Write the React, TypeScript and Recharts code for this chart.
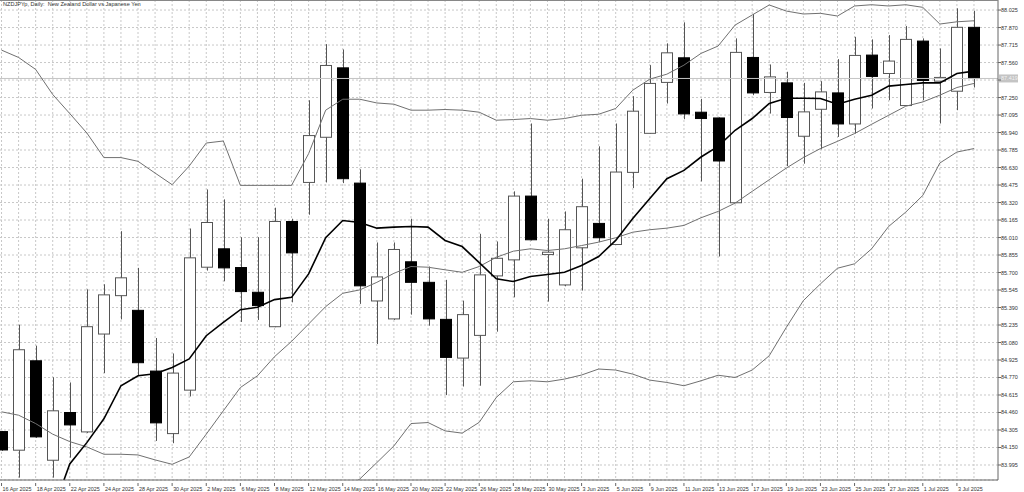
import { ComposedChart, Bar, Line, XAxis, YAxis, CartesianGrid, ReferenceLine } from 'recharts';

const dates = [
  '16 Apr 2025', '17 Apr 2025', '18 Apr 2025', '21 Apr 2025', '22 Apr 2025', '23 Apr 2025', '24 Apr 2025', '25 Apr 2025',
  '28 Apr 2025', '29 Apr 2025', '30 Apr 2025', '1 May 2025', '2 May 2025', '5 May 2025', '6 May 2025', '7 May 2025',
  '8 May 2025', '9 May 2025', '12 May 2025', '13 May 2025', '14 May 2025', '15 May 2025', '16 May 2025', '19 May 2025',
  '20 May 2025', '21 May 2025', '22 May 2025', '23 May 2025', '26 May 2025', '27 May 2025', '28 May 2025', '29 May 2025',
  '30 May 2025', '2 Jun 2025', '3 Jun 2025', '4 Jun 2025', '5 Jun 2025', '6 Jun 2025', '9 Jun 2025', '10 Jun 2025',
  '11 Jun 2025', '12 Jun 2025', '13 Jun 2025', '16 Jun 2025', '17 Jun 2025', '18 Jun 2025', '19 Jun 2025', '20 Jun 2025',
  '23 Jun 2025', '24 Jun 2025', '25 Jun 2025', '26 Jun 2025', '27 Jun 2025', '30 Jun 2025', '1 Jul 2025', '2 Jul 2025',
  '3 Jul 2025', '4 Jul 2025',
];

const opens = [
  84.291, 84.126, 84.918, 84.037, 84.46, 84.288, 85.155, 85.495, 85.365, 84.827, 84.273, 84.658, 85.747, 85.91, 85.744,
  85.525, 85.22, 86.152, 86.498, 86.898, 87.513, 86.492, 85.448, 85.289, 85.795, 85.613, 85.285, 84.942, 85.143, 85.67,
  85.812, 86.377, 85.859, 85.59, 85.919, 86.135, 85.948, 86.587, 86.933, 87.384, 87.602, 87.12, 87.069, 86.318, 87.605,
  87.295, 87.38, 86.907, 87.146, 87.291, 87.016, 87.626, 87.463, 87.179, 87.75, 87.395, 87.306, 87.872,
];
const highs = [
  84.297, 85.238, 85.052, 84.772, 84.726, 85.551, 85.596, 86.066, 85.741, 85.12, 84.983, 86.09, 86.436, 86.348, 86.013,
  86.013, 86.274, 86.176, 87.226, 87.723, 87.676, 86.614, 85.966, 85.966, 86.176, 85.753, 85.635, 85.451, 86.043, 85.975,
  86.419, 87.02, 86.176, 86.241, 86.531, 86.818, 87.02, 87.262, 87.537, 87.73, 87.916, 87.238, 87.075, 87.774, 87.99,
  87.543, 87.478, 87.38, 87.395, 87.59, 87.788, 87.765, 87.803, 87.883, 87.774, 87.685, 88.04, 88.019,
];
const lows = [
  84.12, 83.883, 84.235, 83.883, 84.06, 84.279, 84.809, 85.285, 84.785, 84.208, 84.188, 84.602, 85.717, 85.622, 85.262,
  85.28, 85.215, 85.436, 86.212, 86.498, 86.492, 85.422, 85.067, 85.28, 85.327, 85.229, 84.614, 84.69, 84.697, 85.176,
  85.48, 85.984, 85.442, 85.578, 85.54, 85.969, 85.945, 86.448, 86.93, 87.197, 87.058, 86.507, 85.842, 86.315, 87.271,
  87.108, 86.643, 86.664, 86.791, 86.901, 86.931, 87.153, 87.226, 87.176, 87.226, 87.02, 87.138, 87.339,
];
const closes = [
  84.128, 85.016, 84.244, 84.475, 84.35, 85.22, 85.502, 85.653, 84.901, 84.368, 84.809, 85.83, 86.143, 85.741, 85.531,
  85.407, 86.152, 85.874, 86.913, 87.534, 86.531, 85.582, 85.661, 85.904, 85.613, 85.289, 84.948, 85.327, 85.679, 85.826,
  86.377, 85.99, 85.88, 86.079, 86.283, 86.008, 86.59, 87.129, 87.375, 87.646, 87.105, 87.064, 86.688, 87.65, 87.291,
  87.433, 87.073, 87.123, 87.3, 87.016, 87.623, 87.437, 87.573, 87.765, 87.401, 87.428, 87.872, 87.419,
];

// moving average (thick black line)
const maLine = [
  null, null, null, 83.587, 84.004, 84.193, 84.404, 84.697, 84.785, 84.803, 84.859, 84.934, 85.14, 85.258, 85.371,
  85.392, 85.46, 85.48, 85.688, 86.008, 86.161, 86.143, 86.093, 86.102, 86.108, 86.102, 85.984, 85.93, 85.788, 85.644,
  85.62, 85.664, 85.682, 85.702, 85.762, 85.842, 85.984, 86.179, 86.356, 86.531, 86.605, 86.723, 86.818, 86.96, 87.064,
  87.197, 87.244, 87.244, 87.241, 87.191, 87.235, 87.271, 87.351, 87.366, 87.38, 87.38, 87.463, 87.484,
];

// bollinger bands
const bbUpper = [
  87.67, 87.605, 87.499, 87.277, 87.108, 86.936, 86.718, 86.718, 86.685, 86.581, 86.478, 86.643, 86.847, 86.865, 86.472,
  86.472, 86.472, 86.472, 86.753, 87.138, 87.235, 87.235, 87.202, 87.191, 87.138, 87.138, 87.144, 87.138, 87.12, 87.049,
  87.055, 87.064, 87.049, 87.064, 87.093, 87.102, 87.153, 87.315, 87.413, 87.457, 87.537, 87.641, 87.706, 87.892, 87.981,
  88.07, 88.016, 87.99, 87.996, 87.972, 88.061, 88.072, 88.061, 88.072, 88.049, 87.901, 87.921, 87.93,
];
const bbMiddle = [
  84.466, 84.436, 84.362, 84.268, 84.202, 84.155, 84.09, 84.09, 84.084, 84.04, 84.001, 84.066, 84.268, 84.475, 84.681,
  84.785, 84.954, 85.09, 85.244, 85.398, 85.516, 85.546, 85.613, 85.693, 85.753, 85.747, 85.724, 85.702, 85.753, 85.835,
  85.889, 85.91, 85.895, 85.91, 85.939, 85.969, 86.008, 86.057, 86.079, 86.093, 86.117, 86.185, 86.241, 86.315, 86.419,
  86.522, 86.625, 86.718, 86.798, 86.862, 86.931, 87.013, 87.093, 87.173, 87.211, 87.271, 87.339, 87.375,
];
const bbLower = [
  null, null, null, null, null, null, null, null, null, null, null, null, null, null, null,
  null, null, null, 83.738, 83.658, 83.764, 83.871, 84.016, 84.164, 84.362, 84.371, 84.297, 84.277, 84.373, 84.593,
  84.732, 84.741, 84.732, 84.756, 84.792, 84.845, 84.836, 84.8, 84.747, 84.726, 84.697, 84.741, 84.79, 84.77, 84.836,
  84.963, 85.214, 85.451, 85.599, 85.738, 85.777, 85.91, 86.108, 86.235, 86.383, 86.67, 86.767, 86.798,
];

const priceTicks = [
  83.995, 84.15, 84.305, 84.46, 84.615, 84.77, 84.925, 85.08, 85.235, 85.39, 85.545, 85.7, 85.855, 86.01,
  86.165, 86.32, 86.475, 86.63, 86.785, 86.94, 87.095, 87.25, 87.405, 87.56, 87.715, 87.87, 88.025,
];
const lastPrice = 87.419;
const title = 'NZDJPYp, Daily:  New Zealand Dollar vs Japanese Yen';

const data = dates.map((d, i) => ({
  date: d,
  range: [lows[i], highs[i]],
  open: opens[i],
  high: highs[i],
  low: lows[i],
  close: closes[i],
  ma: maLine[i],
  upper: bbUpper[i],
  middle: bbMiddle[i],
  lower: bbLower[i],
}));

const FONT = '"Liberation Sans", Arial, sans-serif';
const GRID = '#c8c8c8';

// vertical grid at the centre of each bar, taken from the x axis scale
const gridX = (args: any) => {
  try {
    const s = args && args.xAxis && args.xAxis.scale;
    if (!s) return [];
    const bw = typeof s.bandwidth === 'function' ? s.bandwidth() : 0;
    if (typeof s.map === 'function') {
      return dates.map((d) => {
        const start = s.map(d);
        const mid = s.map(d, { position: 'middle' });
        return mid !== start ? mid : start + bw / 2;
      });
    }
    if (typeof s === 'function') return dates.map((d) => s(d) + bw / 2);
  } catch (e) {
    return [];
  }
  return [];
};

const Candle = (props: any) => {
  const { x, y, width, height, payload } = props;
  const { open, close, high, low } = payload;
  const span = high - low;
  const k = span > 0 ? height / span : 0;
  const yOf = (v: number) => y + (high - v) * k;
  const cx = Math.round(x + width / 2) + 0.5;
  const top = yOf(Math.max(open, close));
  const bottom = yOf(Math.min(open, close));
  const up = close >= open;
  return (
    <g>
      <line x1={cx} x2={cx} y1={y} y2={y + height} stroke="#555" strokeWidth={1} />
      <rect
        x={Math.round(x) + 0.5}
        y={top}
        width={width - 1}
        height={Math.max(bottom - top, 1)}
        fill={up ? '#fff' : '#000'}
        stroke={up ? '#555' : '#000'}
        strokeWidth={1}
      />
    </g>
  );
};

const DateTick = (props: any) => {
  const { x, y, index, payload } = props;
  if (index % 2 !== 0) return <g />;
  return (
    <g>
      <line x1={x} x2={x} y1={y - 2} y2={y + 1} stroke="#666" />
      <text x={x + 1} y={y + 6} fontSize={5.4} fontFamily={FONT} fill="#333" textAnchor="start">
        {payload.value}
      </text>
    </g>
  );
};

const PriceTick = (props: any) => {
  const { x, y, payload } = props;
  if (Math.abs(payload.value - lastPrice) < 0.05) return <g />;
  return (
    <text x={x} y={y + 2} fontSize={5.5} fontFamily={FONT} fill="#333" textAnchor="start">
      {payload.value.toFixed(3)}
    </text>
  );
};

const PriceTag = (props: any) => {
  const { viewBox } = props;
  const x = viewBox.x + viewBox.width + 1;
  const y = viewBox.y;
  return (
    <g>
      <rect x={x} y={y - 4} width={19} height={8} fill="#c4c4c4" />
      <text x={x + 2} y={y + 2} fontSize={5.5} fontFamily={FONT} fill="#f2f2f2">
        {lastPrice.toFixed(3)}
      </text>
    </g>
  );
};

export default function App() {
  return (
    <div style={{ position: 'absolute', left: 0, top: 0, width: 1024, height: 492, background: '#fff' }}>
      <ComposedChart width={1024} height={492} data={data} margin={{ top: 0, right: 0, bottom: 0, left: 0 }}>
        <CartesianGrid stroke={GRID} strokeDasharray="2 2" verticalCoordinatesGenerator={gridX} />
        <XAxis
          dataKey="date"
          interval={0}
          height={12}
          padding={{ left: -7, right: 15.5 }}
          tick={<DateTick />}
          tickLine={false}
          tickSize={3}
          axisLine={{ stroke: '#666' }}
        />
        <YAxis
          orientation="right"
          width={26}
          type="number"
          domain={[83.862, 88.114]}
          ticks={priceTicks}
          interval={0}
          allowDataOverflow
          tick={<PriceTick />}
          tickSize={3}
          tickMargin={0}
          tickLine={{ stroke: '#666' }}
          axisLine={{ stroke: '#666' }}
        />
        <ReferenceLine y={lastPrice} stroke="#c4c4c4" strokeWidth={1} label={<PriceTag />} />
        <Bar dataKey="range" barSize={12} isAnimationActive={false} shape={(p: any) => <Candle {...p} />} />
        <Line dataKey="upper" stroke="#707070" strokeWidth={1} dot={false} activeDot={false} isAnimationActive={false} />
        <Line dataKey="middle" stroke="#707070" strokeWidth={1} dot={false} activeDot={false} isAnimationActive={false} />
        <Line dataKey="lower" stroke="#707070" strokeWidth={1} dot={false} activeDot={false} isAnimationActive={false} />
        <Line dataKey="ma" stroke="#000" strokeWidth={1.6} dot={false} activeDot={false} isAnimationActive={false} />
      </ComposedChart>
      <div style={{ position: 'absolute', left: 0, top: 0, width: 998, borderTop: '1px solid #888' }} />
      <div
        style={{
          position: 'absolute',
          left: 3,
          top: 1,
          fontSize: 5.6,
          lineHeight: '7px',
          fontFamily: FONT,
          color: '#333',
          whiteSpace: 'pre',
        }}
      >
        {title}
      </div>
    </div>
  );
}
